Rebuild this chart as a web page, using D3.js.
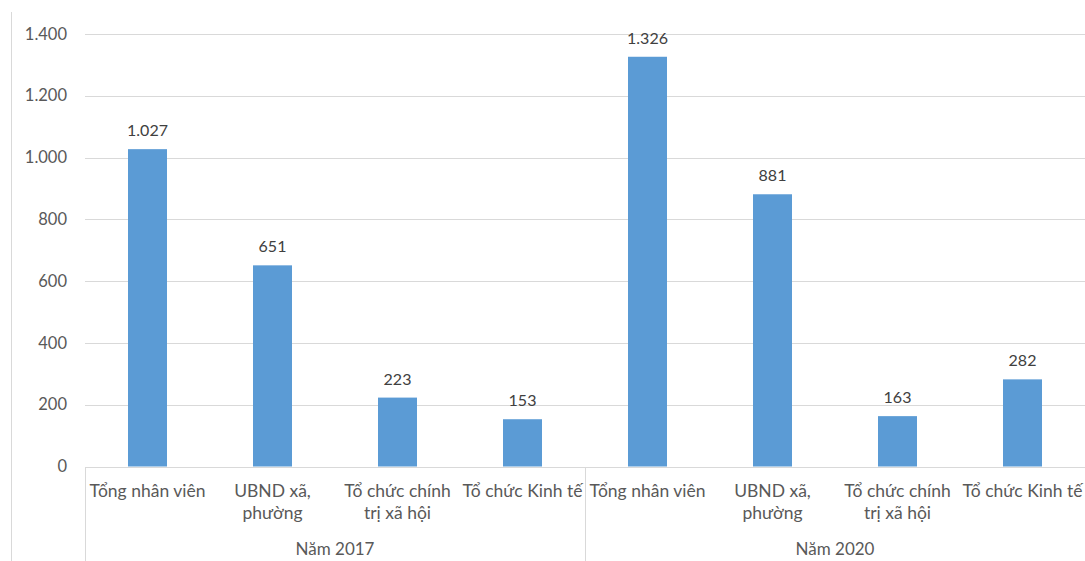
<!DOCTYPE html>
<html>
<head>
<meta charset="utf-8">
<script src="https://cdn.jsdelivr.net/npm/d3@7"></script>
<style>
  html, body { margin: 0; padding: 0; background: #fff; }
  svg { display: block; font-family: "Lato", "Open Sans", sans-serif; }
</style>
</head>
<body>
<svg id="chart" width="1085" height="561"></svg>
<script>
// ---- Data ----
const groups = ["Năm 2017", "Năm 2020"];
const categories = [
  ["Tổng nhân viên"],
  ["UBND xã,", "phường"],
  ["Tổ chức chính", "trị xã hội"],
  ["Tổ chức Kinh tế"]
];
const values2017 = [1027, 651, 223, 153];
const values2020 = [1326, 881, 163, 282];
const yTicks = [0, 200, 400, 600, 800, 1000, 1200, 1400];

// ---- Build ----
const seriesByGroup = [values2017, values2020];
const rows = [];
groups.forEach((g, gi) => {
  categories.forEach((c, ci) => {
    rows.push({ key: gi + "-" + ci, group: g, gi, lines: c, value: seriesByGroup[gi][ci] });
  });
});

const svg = d3.select("#chart");
const W = 1085, H = 561;
const left = 85, right = 1085, y0px = 466.5, yTop = 33.9;
const textColor = "#595959";
const gridColor = "#d9d9d9";

const fmt = d3.formatLocale({ decimal: ",", thousands: ".", grouping: [3], currency: ["", ""] }).format(",d");

const x = d3.scaleBand().domain(rows.map(d => d.key)).range([left, right]).paddingInner(0.688).paddingOuter(0.344);
const xGroup = d3.scaleBand().domain(groups).range([left, right]);
const y = d3.scaleLinear().domain([0, 1400]).range([y0px, yTop]);

// outer chart border (left edge)
svg.append("line").attr("x1", 11.5).attr("x2", 11.5).attr("y1", 12).attr("y2", H)
  .attr("stroke", gridColor).attr("stroke-width", 1);

// gridlines
svg.append("g").selectAll("line").data(yTicks.filter(t => t > 0)).join("line")
  .attr("x1", left).attr("x2", right)
  .attr("y1", d => Math.round(y(d)) + 0.5).attr("y2", d => Math.round(y(d)) + 0.5)
  .attr("stroke", gridColor).attr("stroke-width", 1);

// y axis labels
const yAxis = d3.axisLeft(y).tickValues(yTicks).tickFormat(fmt).tickSize(0).tickPadding(0);
const yg = svg.append("g").attr("transform", `translate(67,0)`).call(yAxis);
yg.select(".domain").remove();
yg.selectAll("text").attr("fill", textColor).style("font-size", "16.5px").style("font-family", "Lato, 'Open Sans', sans-serif");

// bars
svg.append("g").selectAll("rect").data(rows).join("rect")
  .attr("x", d => x(d.key))
  .attr("width", x.bandwidth())
  .attr("y", d => y(d.value))
  .attr("height", d => y(0) - y(d.value))
  .attr("fill", "#5B9BD5");

// value labels
svg.append("g").selectAll("text").data(rows).join("text")
  .attr("x", d => x(d.key) + x.bandwidth() / 2)
  .attr("y", d => y(d.value) - 13)
  .attr("text-anchor", "middle")
  .attr("fill", "#404040")
  .style("font-size", "16px")
  .text(d => fmt(d.value));

// category axis line
svg.append("line").attr("x1", left).attr("x2", right)
  .attr("y1", Math.round(y0px) + 0.5).attr("y2", Math.round(y0px) + 0.5)
  .attr("stroke", gridColor).attr("stroke-width", 1);

// group separators
const seps = groups.map(g => xGroup(g));
svg.append("g").selectAll("line").data(seps).join("line")
  .attr("x1", d => Math.round(d) + 0.5).attr("x2", d => Math.round(d) + 0.5)
  .attr("y1", Math.round(y0px)).attr("y2", H)
  .attr("stroke", gridColor).attr("stroke-width", 1);

// category labels
const cat = svg.append("g").selectAll("text").data(rows).join("text")
  .attr("text-anchor", "middle")
  .attr("fill", textColor)
  .style("font-size", "17.5px");
cat.each(function(d) {
  const t = d3.select(this);
  const cx = x(d.key) + x.bandwidth() / 2;
  d.lines.forEach((ln, i) => {
    t.append("tspan").attr("x", cx).attr("y", 497 + i * 22).text(ln);
  });
});

// group labels
svg.append("g").selectAll("text").data(groups).join("text")
  .attr("x", d => xGroup(d) + xGroup.bandwidth() / 2)
  .attr("y", 555)
  .attr("text-anchor", "middle")
  .attr("fill", textColor)
  .style("font-size", "17px")
  .text(d => d);
</script>
</body>
</html>
